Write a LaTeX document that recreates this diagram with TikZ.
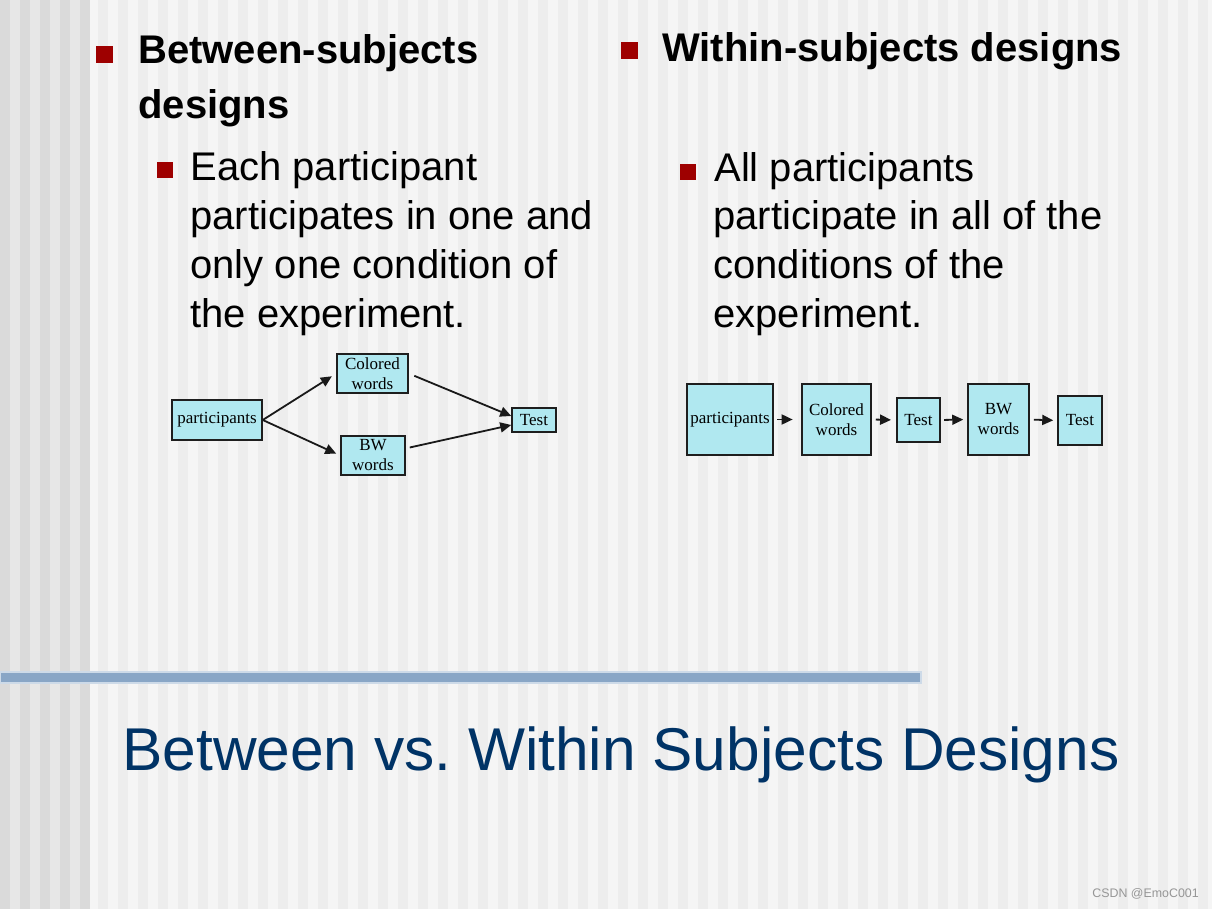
\documentclass[tikz,border=0pt]{standalone}
\usepackage{fontspec}
\setmainfont{Liberation Sans}
\newfontfamily\boxfont{Liberation Serif}
\usetikzlibrary{arrows.meta,calc}
\frenchspacing
\definecolor{bgA}{RGB}{245,245,245}
\definecolor{bgB}{RGB}{237,237,237}
\definecolor{lzD}{RGB}{218,218,218}
\definecolor{lzL}{RGB}{231,231,231}
\definecolor{barcol}{RGB}{137,166,198}
\definecolor{baredge}{RGB}{205,218,232}
\definecolor{bulletred}{RGB}{158,0,0}
\definecolor{titleblue}{RGB}{0,51,102}
\definecolor{boxfill}{RGB}{176,232,240}
\definecolor{boxline}{RGB}{30,30,30}
\definecolor{wmgray}{RGB}{150,150,150}
\begin{document}
\begin{tikzpicture}[x=0.5pt,y=-0.5pt,
  hd/.style={anchor=base west, inner sep=0, font=\fontsize{20}{24}\selectfont\bfseries},
  bodytext/.style={anchor=base west, inner sep=0, font=\fontsize{20}{24}\selectfont},
  box/.style={draw=boxline, fill=boxfill, line width=0.75pt, inner sep=0, align=center,
    font=\boxfont\fontsize{8.5}{10}\selectfont},
  arr/.style={-{Triangle[length=5.5pt,width=5pt]}, line width=0.9pt, draw=black!90}]
\useasboundingbox (0,0) rectangle (1212,909);
% background
\fill[bgA] (0,0) rectangle (1212,909);
\foreach \i in {0,...,55} \fill[bgB] (98+20*\i,0) rectangle (108+20*\i,909);
\fill[lzL] (0,0) rectangle (90,909);
\foreach \i in {0,...,4} \fill[lzD] (20*\i,0) rectangle (20*\i+10,909);
% horizontal bar
\fill[barcol, draw=baredge, line width=0.6pt] (0,672) rectangle (921,683);
% bullets
\fill[bulletred] (96,46) rectangle (113,63);
\fill[bulletred] (157,162) rectangle (173,178);
\fill[bulletred] (621,42) rectangle (638,59);
\fill[bulletred] (680,164) rectangle (696,180);
% left column text
\node[hd] (lh1) at (138,64) {Between-subjects};
\node[hd] (lh2) at (138,119) {designs};
\node[bodytext] (lb1) at (190,181) {Each participant};
\node[bodytext] (lb2) at (190,230) {participates in one and};
\node[bodytext] (lb3) at (190,279) {only one condition of};
\node[bodytext] (lb4) at (190,328) {the experiment.};
% right column text
\node[hd] (rh1) at (662,62) {Within-subjects designs};
\node[bodytext] (rb1) at (714,182) {All participants};
\node[bodytext] (rb2) at (713,230) {participate in all of the};
\node[bodytext] (rb3) at (713,279) {conditions of the};
\node[bodytext] (rb4) at (713,328) {experiment.};
% left diagram
\node[box, minimum width=45pt, minimum height=20pt] (lp) at (217,420) {participants};
\node[box, minimum width=35.5pt, minimum height=19.5pt] (lcw) at (372.5,373.5) {Colored\\words};
\node[box, minimum width=32pt, minimum height=19.5pt] (lbw) at (373,455.5) {BW\\words};
\node[box, minimum width=22pt, minimum height=12pt] (lt) at (534,420) {Test};
\draw[arr, shorten >=2.6pt] (lp.east) -- (lcw.west);
\draw[arr, shorten >=2.2pt] (lp.east) -- (lbw.west);
\draw[arr, shorten <=3pt] (lcw.east) -- ($(lt.west)+(0,-4)$);
\draw[arr] ($(lbw.east)+(4,-8)$) -- ($(lt.west)+(0,5)$);
% right diagram
\node[box, minimum width=43pt, minimum height=35.5pt] (rp) at (730,419.5) {participants};
\node[box, minimum width=34.5pt, minimum height=35.5pt] (rcw) at (836.5,419.5) {Colored\\words};
\node[box, minimum width=21.5pt, minimum height=22pt] (rt1) at (918.5,420) {Test};
\node[box, minimum width=30.5pt, minimum height=35.5pt] (rbw) at (998.5,419.5) {BW\\words};
\node[box, minimum width=22pt, minimum height=24.5pt] (rt2) at (1080,420.5) {Test};
\draw[arr, shorten <=1.8pt, shorten >=4.3pt] (rp.east) -- (rcw.west);
\draw[arr, shorten <=2pt, shorten >=2.6pt] (rcw.east) -- (rt1.west);
\draw[arr, shorten <=1.7pt, shorten >=2pt] (rt1.east) -- (rbw.west);
\draw[arr, shorten <=2.1pt, shorten >=2pt] (rbw.east) -- (rt2.west);
% title
\node[anchor=base west, inner sep=0, text=titleblue, font=\fontsize{30.2}{36}\selectfont] (title) at (122,770.5) {Between vs. Within Subjects Designs};
% watermark
\node[anchor=base west, inner sep=0, text=wmgray, font=\fontsize{6.2}{7}\selectfont] (wm) at (1092,897) {CSDN @EmoC001};
\end{tikzpicture}
\end{document}
